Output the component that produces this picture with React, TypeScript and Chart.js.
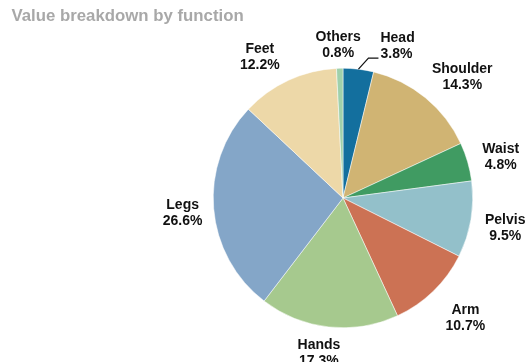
import React, { useEffect, useRef } from "react";
import { Chart, registerables } from "chart.js";

Chart.register(...registerables);

const titleText = "Value breakdown by function";
const categories = ["Head", "Shoulder", "Waist", "Pelvis", "Arm", "Hands", "Legs", "Feet", "Others"];
const shares = [3.8, 14.3, 4.8, 9.5, 10.7, 17.3, 26.6, 12.2, 0.8];
const sliceColors = [
  "#136f9e",
  "#d0b473",
  "#409b62",
  "#93c0ca",
  "#cc7254",
  "#a6c98e",
  "#84a6c8",
  "#edd8a8",
  "#9fd0ab",
];

const FONT = "'Liberation Sans', Arial, Helvetica, sans-serif";

// label placement: radial factor (relative to pie radius) plus a small nudge in px
const labelPlace: Record<string, { k: number; dx: number; dy: number }> = {
  Shoulder: { k: 1.35, dx: 8, dy: 14 },
  Waist: { k: 1.25, dx: 2, dy: 4 },
  Pelvis: { k: 1.26, dx: 1, dy: 3 },
  Arm: { k: 1.3, dx: 5, dy: -1 },
  Hands: { k: 1.2, dx: -7, dy: 0 },
  Legs: { k: 1.24, dx: 0, dy: 2 },
  Feet: { k: 1.25, dx: -15, dy: 6 },
  Others: { k: 1.18, dx: -1, dy: 0.5 },
};

const pieLabels = {
  id: "pieLabels",
  afterDraw(chart: any) {
    const ctx = chart.ctx;
    const meta = chart.getDatasetMeta(0);
    ctx.save();
    ctx.font = `bold 14px ${FONT}`;
    ctx.fillStyle = "#111";
    ctx.textBaseline = "middle";
    meta.data.forEach((arc: any, i: number) => {
      const p = arc.getProps(["x", "y", "startAngle", "endAngle", "outerRadius"], true);
      const mid = (p.startAngle + p.endAngle) / 2;
      const name = categories[i];
      const pct = shares[i].toFixed(1) + "%";
      if (name === "Head") {
        const ex = p.x + Math.cos(mid) * p.outerRadius;
        const ey = p.y + Math.sin(mid) * p.outerRadius;
        const bx = ex + 10;
        const by = ey - 11;
        const hx = bx + 10;
        ctx.strokeStyle = "#111";
        ctx.lineWidth = 1.2;
        ctx.beginPath();
        ctx.moveTo(ex, ey);
        ctx.lineTo(bx, by);
        ctx.lineTo(hx, by);
        ctx.stroke();
        ctx.textAlign = "left";
        ctx.fillText(name, hx + 2, by - 20);
        ctx.fillText(pct, hx + 2, by - 4);
        return;
      }
      const pl = labelPlace[name] ?? { k: 1.25, dx: 0, dy: 0 };
      const cx = p.x + Math.cos(mid) * p.outerRadius * pl.k + pl.dx;
      const cy = p.y + Math.sin(mid) * p.outerRadius * pl.k + pl.dy;
      ctx.textAlign = "center";
      ctx.fillText(name, cx, cy - 8);
      ctx.fillText(pct, cx, cy + 8);
    });
    ctx.restore();
  },
};

const titlePlugin = {
  id: "topTitle",
  afterDraw(chart: any) {
    const ctx = chart.ctx;
    ctx.save();
    ctx.font = `bold 16.8px ${FONT}`;
    ctx.fillStyle = "#a8a8a8";
    ctx.textAlign = "left";
    ctx.textBaseline = "middle";
    ctx.fillText(titleText, 11.5, 16.5);
    ctx.restore();
  },
};

export default function App() {
  const ref = useRef<HTMLCanvasElement | null>(null);
  useEffect(() => {
    if (!ref.current) return;
    const chart = new Chart(ref.current, {
      type: "pie",
      data: {
        labels: categories,
        datasets: [
          {
            data: shares,
            backgroundColor: sliceColors,
            borderColor: "#ffffff",
            borderWidth: 0.5,
          },
        ],
      },
      options: {
        responsive: false,
        animation: false,
        layout: { padding: { top: 68, bottom: 34, left: 213, right: 55 } },
        plugins: {
          legend: { display: false },
          tooltip: { enabled: false },
          title: { display: false },
        },
      },
      plugins: [pieLabels, titlePlugin],
    });
    return () => chart.destroy();
  }, []);
  return (
    <div style={{ position: "absolute", left: 0, top: 0, width: 528, height: 362, background: "#fff" }}>
      <canvas ref={ref} width={528} height={362} />
    </div>
  );
}
